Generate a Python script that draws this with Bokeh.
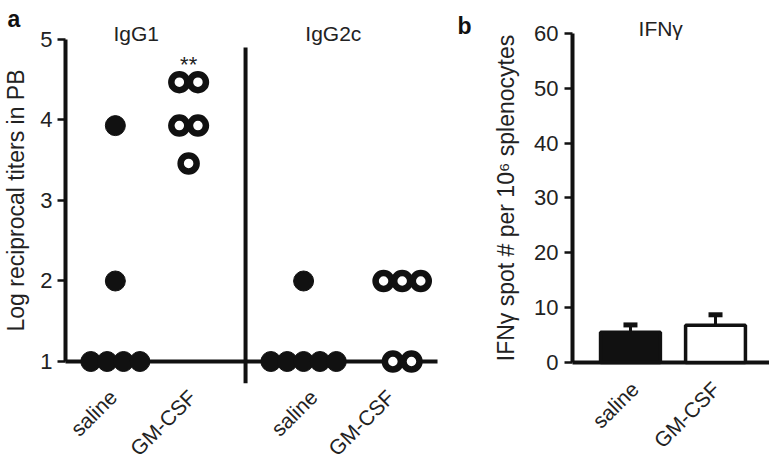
import math
from collections import Counter
from bokeh.plotting import figure
from bokeh.models import Range1d, FixedTicker, Whisker, TeeHead, ColumnDataSource
from bokeh.layouts import row
from bokeh.embed import file_html
from bokeh.resources import INLINE
from bokeh.core.properties import value

FONT = "Liberation Sans"
INK = "#111111"
TXT = "#222222"

# ---------------- data ----------------
groups = ["saline", "GM-CSF"]
panel_a_titles = ["IgG1", "IgG2c"]
igg1_saline = [3.93, 2.0, 1.0, 1.0, 1.0, 1.0]
igg1_gmcsf = [4.47, 4.47, 3.93, 3.93, 3.46]
igg2c_saline = [2.0, 1.0, 1.0, 1.0, 1.0, 1.0]
igg2c_gmcsf = [2.0, 2.0, 2.0, 1.0, 1.0]
a_ticks = [1, 2, 3, 4, 5]
sig_label = "**"

ifng_title = "IFN\u03b3"
ifng_mean = [5.5, 6.8]
ifng_sem = [1.35, 1.9]
b_ticks = [0, 10, 20, 30, 40, 50, 60]

# ---------------- layout positions ----------------
xa_pos = [1.34, 3.31, 6.40, 9.05]     # column centres in panel a
xa_lab = [1.28, 3.41, 6.67, 8.74]     # where the slanted labels end
xa_div = 4.84                         # divider between IgG1 and IgG2c
xa_title = [1.9, 7.2]
xb_pos = [0.92, 2.27]
xb_lab = [0.99, 2.28]


def spread(vals, center, step):
    counts = Counter(round(v, 2) for v in vals)
    seen = {}
    xs = []
    for v in vals:
        k = round(v, 2)
        i = seen.get(k, 0)
        seen[k] = i + 1
        n = counts[k]
        xs.append(center + (i - (n - 1) / 2) * step)
    return xs


def style_common(p):
    p.outline_line_color = None
    p.xgrid.visible = False
    p.ygrid.visible = False
    p.background_fill_color = "white"
    p.border_fill_color = "white"


def style_yaxis(ax, ticks, bounds, label, label_standoff, tick_standoff):
    ax.ticker = FixedTicker(ticks=ticks)
    ax.bounds = bounds
    ax.fixed_location = 0
    ax.axis_line_width = 4
    ax.axis_line_color = INK
    ax.major_tick_line_width = 2.5
    ax.major_tick_line_color = INK
    ax.major_tick_out = 8
    ax.major_tick_in = 0
    ax.minor_tick_line_color = None
    ax.major_label_text_font = FONT
    ax.major_label_text_font_size = "22px"
    ax.major_label_text_color = TXT
    ax.major_label_standoff = tick_standoff
    ax.axis_label = label
    ax.axis_label_text_font = FONT
    ax.axis_label_text_font_size = "23px"
    ax.axis_label_text_font_style = "normal"
    ax.axis_label_text_color = TXT
    ax.axis_label_standoff = label_standoff


def style_xaxis(ax, ticks, labels, loc, standoff):
    ax.ticker = FixedTicker(ticks=ticks)
    ax.major_label_overrides = {x: labels[i] for i, x in enumerate(ticks)}
    ax.major_label_orientation = math.pi / 4
    ax.fixed_location = loc
    ax.axis_line_color = None
    ax.major_tick_line_color = None
    ax.minor_tick_line_color = None
    ax.major_label_text_font = FONT
    ax.major_label_text_font_size = "21px"
    ax.major_label_text_color = TXT
    ax.major_label_standoff = standoff


# ---------------- panel a ----------------
pa = figure(width=450, height=461, x_range=Range1d(-1.747, 10.349), y_range=Range1d(-0.242, 5.484),
            output_backend="svg", toolbar_location=None,
            min_border_left=0, min_border_right=0, min_border_top=0, min_border_bottom=0)
style_common(pa)
style_yaxis(pa.yaxis[0], a_ticks, (1, 5), "Log reciprocal titers in PB", 8, 5)
style_xaxis(pa.xaxis[0], xa_lab, [groups[i % 2] for i in range(4)], 1, 26)

pa.segment(x0=[0], y0=[1], x1=[10], y1=[1], line_color=INK, line_width=4)
pa.segment(x0=[xa_div], y0=[0.73], x1=[xa_div], y1=[4.9], line_color=INK, line_width=4)

filled_step = 0.44
open_step = 0.5
for vals, c in [(igg1_saline, xa_pos[0]), (igg2c_saline, xa_pos[2])]:
    pa.scatter(spread(vals, c, filled_step), vals, size=20, marker="circle",
               fill_color=INK, line_color=INK, line_width=1)
for vals, c in [(igg1_gmcsf, xa_pos[1]), (igg2c_gmcsf, xa_pos[3])]:
    pa.scatter(spread(vals, c, open_step), vals, size=16, marker="circle",
               fill_color="white", line_color=INK, line_width=6.5)

pa.text(x=[xa_pos[1]], y=[max(igg1_gmcsf) + 0.22], text=[sig_label], text_align="center",
        text_baseline="alphabetic", text_font=value(FONT), text_font_size="22px", text_color=TXT)
pa.text(x=xa_title, y=[5.075, 5.075], text=panel_a_titles, text_align="center",
        text_baseline="alphabetic", text_font=value(FONT), text_font_size="21px", text_color=TXT)
pa.text(x=[-1.56], y=[5.26], text=["a"], text_align="left", text_baseline="alphabetic",
        text_font=value(FONT), text_font_size="23px", text_font_style="bold", text_color=INK)

# ---------------- panel b ----------------
pb = figure(width=319, height=461, x_range=Range1d(-1.937, 3.127), y_range=Range1d(-18.06, 66.02),
            output_backend="svg", toolbar_location=None,
            min_border_left=0, min_border_right=0, min_border_top=0, min_border_bottom=0)
style_common(pb)
style_yaxis(pb.yaxis[0], b_ticks, (0, 60), "IFN\u03b3 spot # per 10\u2076 splenocytes", 12, 6)
style_xaxis(pb.xaxis[0], xb_lab, groups, 0, 17)

pb.segment(x0=[0], y0=[0], x1=[3.127], y1=[0], line_color=INK, line_width=4)

src = ColumnDataSource(dict(x=xb_pos, mean=ifng_mean,
                            upper=[m + s for m, s in zip(ifng_mean, ifng_sem)],
                            fill=[INK, "white"]))
pb.vbar(x="x", top="mean", width=0.95, source=src, fill_color="fill",
        line_color=INK, line_width=3.5)
pb.add_layout(Whisker(source=src, base="x", upper="upper", lower="mean", dimension="height",
                      line_color=INK, line_width=3,
                      upper_head=TeeHead(size=14, line_width=5, line_color=INK),
                      lower_head=None))

pb.text(x=[1.4], y=[60.9], text=[ifng_title], text_align="center",
        text_baseline="alphabetic", text_font=value(FONT), text_font_size="21px", text_color=TXT)
pb.text(x=[-1.825], y=[61.46], text=["b"], text_align="left", text_baseline="alphabetic",
        text_font=value(FONT), text_font_size="23px", text_font_style="bold", text_color=INK)

layout = row(pa, pb)
open("out.html", "w").write(file_html(layout, INLINE))
